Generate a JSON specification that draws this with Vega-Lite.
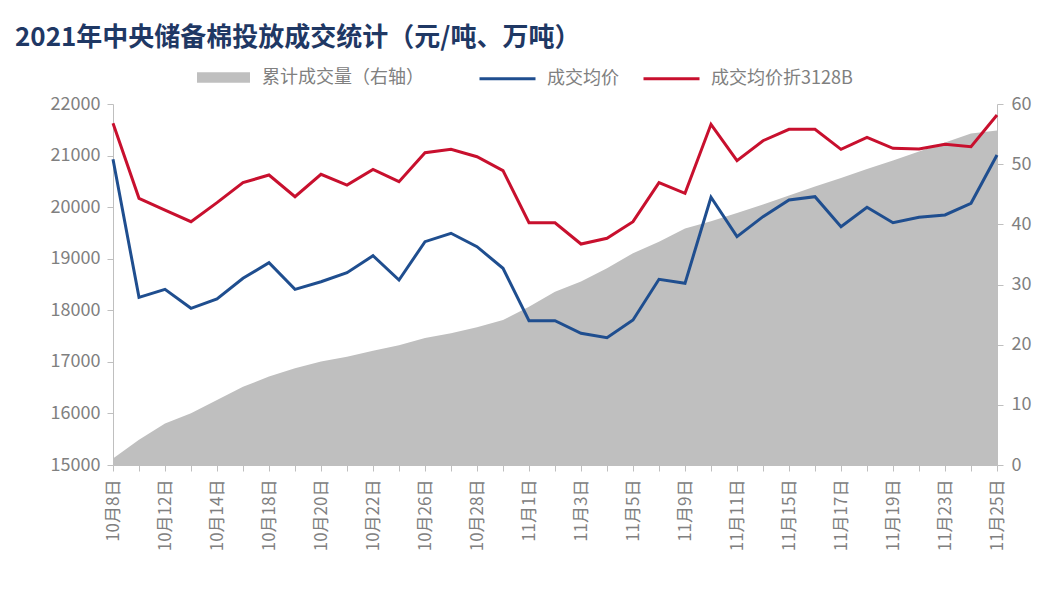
{
  "$schema": "https://vega.github.io/schema/vega-lite/v6.json",
  "width": 884,
  "height": 361,
  "autosize": "none",
  "padding": {"left": 113, "top": 104, "right": 49, "bottom": 129},
  "background": "white",
  "title": {
    "text": "2021年中央储备棉投放成交统计（元/吨、万吨）",
    "anchor": "start",
    "frame": "group",
    "dx": -98,
    "dy": 33,
    "fontSize": 26,
    "fontWeight": "bold",
    "color": "#1f3864",
    "font": "Noto Sans CJK SC",
    "baseline": "alphabetic",
    "offset": 10
  },
  "data": {
    "values": [
      {"date": "10月8日", "vol": 1.1, "avg": 20927, "avg3128": 21626},
      {"date": "10月11日", "vol": 4.2, "avg": 18251, "avg3128": 20171},
      {"date": "10月12日", "vol": 6.9, "avg": 18406, "avg3128": 19944},
      {"date": "10月13日", "vol": 8.6, "avg": 18038, "avg3128": 19718},
      {"date": "10月14日", "vol": 10.8, "avg": 18219, "avg3128": 20087},
      {"date": "10月15日", "vol": 13.0, "avg": 18620, "avg3128": 20475},
      {"date": "10月18日", "vol": 14.7, "avg": 18923, "avg3128": 20623},
      {"date": "10月19日", "vol": 16.1, "avg": 18406, "avg3128": 20203},
      {"date": "10月20日", "vol": 17.2, "avg": 18554, "avg3128": 20636},
      {"date": "10月21日", "vol": 18.0, "avg": 18729, "avg3128": 20429},
      {"date": "10月22日", "vol": 19.0, "avg": 19058, "avg3128": 20733},
      {"date": "10月25日", "vol": 19.9, "avg": 18587, "avg3128": 20494},
      {"date": "10月26日", "vol": 21.1, "avg": 19330, "avg3128": 21056},
      {"date": "10月27日", "vol": 21.9, "avg": 19493, "avg3128": 21121},
      {"date": "10月28日", "vol": 22.9, "avg": 19233, "avg3128": 20978},
      {"date": "10月29日", "vol": 24.1, "avg": 18814, "avg3128": 20707},
      {"date": "11月1日", "vol": 26.3, "avg": 17798, "avg3128": 19698},
      {"date": "11月2日", "vol": 28.8, "avg": 17798, "avg3128": 19698},
      {"date": "11月3日", "vol": 30.5, "avg": 17554, "avg3128": 19285},
      {"date": "11月4日", "vol": 32.7, "avg": 17468, "avg3128": 19396},
      {"date": "11月5日", "vol": 35.2, "avg": 17812, "avg3128": 19718},
      {"date": "11月8日", "vol": 37.1, "avg": 18601, "avg3128": 20475},
      {"date": "11月9日", "vol": 39.3, "avg": 18523, "avg3128": 20268},
      {"date": "11月10日", "vol": 40.5, "avg": 20191, "avg3128": 21606},
      {"date": "11月11日", "vol": 41.9, "avg": 19427, "avg3128": 20901},
      {"date": "11月12日", "vol": 43.3, "avg": 19815, "avg3128": 21288},
      {"date": "11月15日", "vol": 44.8, "avg": 20138, "avg3128": 21509},
      {"date": "11月16日", "vol": 46.3, "avg": 20203, "avg3128": 21509},
      {"date": "11月17日", "vol": 47.7, "avg": 19621, "avg3128": 21121},
      {"date": "11月18日", "vol": 49.2, "avg": 19997, "avg3128": 21354},
      {"date": "11月19日", "vol": 50.6, "avg": 19698, "avg3128": 21141},
      {"date": "11月22日", "vol": 52.1, "avg": 19803, "avg3128": 21127},
      {"date": "11月23日", "vol": 53.6, "avg": 19848, "avg3128": 21218},
      {"date": "11月24日", "vol": 55.1, "avg": 20074, "avg3128": 21172},
      {"date": "11月25日", "vol": 55.6, "avg": 21011, "avg3128": 21787}
    ]
  },
  "encoding": {
    "x": {
      "field": "date",
      "type": "ordinal",
      "sort": null,
      "scale": {"type": "point", "padding": 0},
      "axis": {
        "labelAngle": -90,
        "labelPadding": 8,
        "labelOverlap": false,
        "labelFontSize": 17,
        "labelExpr": "indexof(['10月8日','10月12日','10月14日','10月18日','10月20日','10月22日','10月26日','10月28日','11月1日','11月3日','11月5日','11月9日','11月11日','11月15日','11月17日','11月19日','11月23日','11月25日'], datum.value) >= 0 ? datum.label : ''"
      }
    }
  },
  "layer": [
    {
      "mark": {"type": "area", "interpolate": "linear"},
      "encoding": {
        "y": {
          "field": "vol",
          "type": "quantitative",
          "scale": {"domain": [0, 60], "nice": false},
          "axis": {"orient": "right", "values": [0, 10, 20, 30, 40, 50, 60], "labelPadding": 8}
        },
        "fill": {
          "datum": "累计成交量（右轴）",
          "type": "nominal",
          "scale": {"range": ["#bfbfbf"]},
          "legend": {
            "orient": "none",
            "legendX": 84,
            "legendY": -53,
            "padding": 0,
            "symbolType": "M-1,-0.2H1V0.2H-1Z",
            "symbolSize": 2809,
            "symbolStrokeWidth": 0,
            "symbolOpacity": 1,
            "labelOffset": 12,
            "labelLimit": 400
          }
        }
      }
    },
    {
      "transform": [
        {"fold": ["avg", "avg3128"], "as": ["key", "price"]},
        {"calculate": "datum.key == 'avg' ? '成交均价' : '成交均价折3128B'", "as": "series"}
      ],
      "mark": {"type": "line", "strokeWidth": 3},
      "encoding": {
        "y": {
          "field": "price",
          "type": "quantitative",
          "scale": {"domain": [15000, 22000], "nice": false, "zero": false},
          "axis": {"orient": "left", "values": [15000, 16000, 17000, 18000, 19000, 20000, 21000, 22000], "format": "d", "labelPadding": 7}
        },
        "stroke": {
          "field": "series",
          "type": "nominal",
          "scale": {"domain": ["成交均价", "成交均价折3128B"], "range": ["#1f4e8f", "#c8102e"]},
          "legend": {
            "orient": "none",
            "legendX": 365,
            "legendY": -55,
            "padding": 0,
            "direction": "horizontal",
            "symbolType": "stroke",
            "symbolSize": 3136,
            "symbolStrokeWidth": 3,
            "labelOffset": 10,
            "columnPadding": 18,
            "labelLimit": 400
          }
        }
      }
    }
  ],
  "resolve": {"scale": {"y": "independent"}},
  "config": {
    "view": {"stroke": null},
    "font": "Noto Sans CJK SC",
    "axis": {
      "domainColor": "#bfbfbf",
      "tickColor": "#bfbfbf",
      "labelColor": "#808080",
      "labelFontSize": 18,
      "grid": false,
      "title": null,
      "tickSize": 6
    },
    "legend": {
      "title": null,
      "labelFontSize": 18,
      "labelColor": "#808080",
      "labelFont": "Noto Sans CJK SC"
    }
  }
}
